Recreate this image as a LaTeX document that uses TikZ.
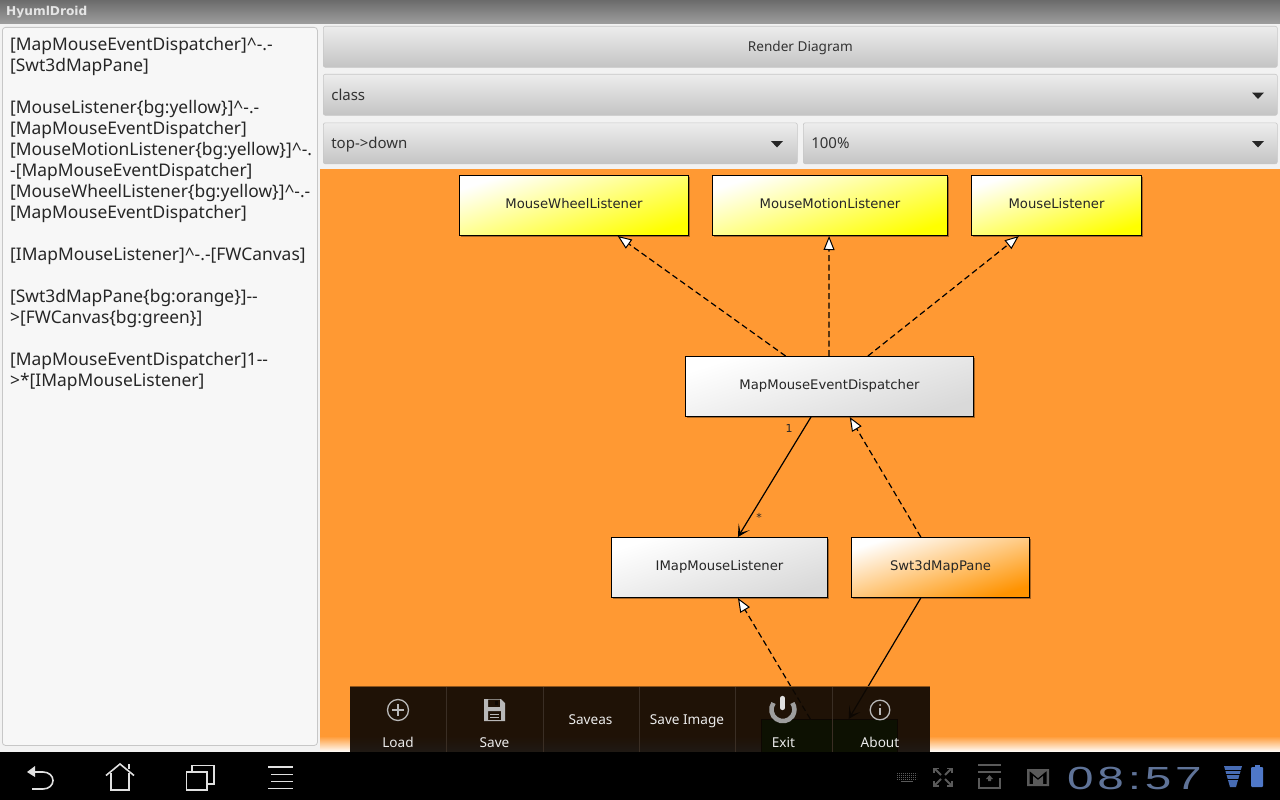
\documentclass[tikz,border=0pt]{standalone}
\usepackage{fontspec}
\usetikzlibrary{arrows.meta,calc,shadows}
\newfontfamily\droid{Noto Sans}
\newfontfamily\dejav{DejaVu Sans}
\newfontfamily\clockf{Liberation Sans}
\definecolor{orangebg}{HTML}{FF9933}
\definecolor{pagebg}{HTML}{F2F2F2}
\definecolor{btntop}{HTML}{EDEDED}
\definecolor{btnbot}{HTML}{C4C4C4}
\definecolor{menubg}{HTML}{0E0803}
\definecolor{menuln}{HTML}{3A2E24}
\definecolor{clockc}{HTML}{5F7398}
\definecolor{statc}{HTML}{5A5A5A}
\definecolor{blueic}{HTML}{4F78C8}
\newcommand{\btntext}[1]{\rule[-5.4pt]{0pt}{22pt}#1}
\newcommand{\boxtext}[1]{\rule[-6pt]{0pt}{17.6pt}#1}
\tikzset{
 x=1pt,y=-1pt,
 umlbox/.style={draw=black,line width=1pt,rectangle,anchor=north west,inner sep=0pt,minimum height=60pt,
   font=\dejav\fontsize{13.2}{15}\selectfont,text=black!85,
   drop shadow={shadow xshift=1.2pt,shadow yshift=-1.2pt,opacity=.35,fill=black}},
 grayb/.style={umlbox,top color=white,bottom color=black!15,shading angle=18},
 yellowb/.style={umlbox,top color=white,bottom color=yellow,shading angle=18},
 orangeb/.style={umlbox,top color=white,bottom color=orange!85!yellow,shading angle=18},
 dep/.style={draw=black,line width=1.2pt,dash pattern=on 6pt off 3.5pt,-{Triangle[open,fill=white,length=14pt,width=11pt,line width=1pt]}},
 assoc/.style={draw=black,line width=1.2pt,-{Stealth[length=12pt,width=13pt,inset=7pt]}},
 btn/.style={rectangle,rounded corners=2pt,anchor=north west,inner sep=0pt,minimum height=41pt,top color=btntop,bottom color=btnbot,draw=black!22,line width=.6pt,text=black!80,font=\droid\fontsize{15}{18}\selectfont},
 menutxt/.style={text=white!92!black,font=\droid\fontsize{13.6}{16}\selectfont,inner sep=0pt,anchor=center},
 menusep/.style={draw=menuln,line width=.6pt},
 menuic/.style={draw=white!72!black,line width=1.3pt},
 navic/.style={draw=white!88!black,line width=1.6pt},
 stic/.style={draw=statc,line width=2pt},
 ddarrow/.style={fill=black!85,draw=none},
 small/.style={font=\dejav\fontsize{11}{12}\selectfont,text=black!85,inner sep=0pt},
}
\begin{document}
\begin{tikzpicture}
\useasboundingbox (0,0) rectangle (1280,800);
% page
\fill[pagebg] (0,0) rectangle (1280,800);
\shade[top color=black!58,bottom color=black!38] (0,0) rectangle (1280,24);
\node[anchor=west,inner sep=0pt,text=white!90!black,font=\dejav\bfseries\fontsize{12.2}{15}\selectfont] (title) at (6,12) {HyumlDroid};
% text area
\node[rectangle,rounded corners=3pt,anchor=north west,inner sep=0pt,minimum width=315pt,minimum height=718pt,fill=white!97!black,draw=black!22,line width=.8pt] (panel) at (2,27) {};
\node[anchor=north west,inner sep=0pt,align=left,text=black!85,font=\droid\fontsize{17.4}{21}\selectfont] (src) at (10,37.5) {%
{[}MapMouseEventDispatcher{]}\textasciicircum-.-\\
{[}Swt3dMapPane{]}\\
\mbox{}\\
{[}MouseListener\{bg:yellow\}{]}\textasciicircum-.-\\
{[}MapMouseEventDispatcher{]}\\
{[}MouseMotionListener\{bg:yellow\}{]}\textasciicircum-.\\
-{[}MapMouseEventDispatcher{]}\\
{[}MouseWheelListener\{bg:yellow\}{]}\textasciicircum-.-\\
{[}MapMouseEventDispatcher{]}\\
\mbox{}\\
{[}IMapMouseListener{]}\textasciicircum-.-{[}FWCanvas{]}\\
\mbox{}\\
{[}Swt3dMapPane\{bg:orange\}{]}-{}-\\
>{[}FWCanvas\{bg:green\}{]}\\
\mbox{}\\
{[}MapMouseEventDispatcher{]}1-{}-\\
>*{[}IMapMouseListener{]}};
% controls
\node[btn,minimum width=954pt,font=\droid\fontsize{13.6}{17}\selectfont] (render) at (323,26) {\rule[-5.1pt]{0pt}{19pt}Render Diagram};
\node[btn,minimum width=954pt,text width=938pt,align=left] (kind) at (323,74) {\btntext{class}};
\node[btn,minimum width=474pt,text width=458pt,align=left] (dir) at (323,122.5) {\btntext{top->down}};
\node[btn,minimum width=474pt,text width=458pt,align=left] (zoomc) at (803,122.5) {\btntext{100\%}};
\fill[ddarrow] (1252,92.5) -- (1264,92.5) -- (1258,99) -- cycle;
\fill[ddarrow] (771,141) -- (783,141) -- (777,147.5) -- cycle;
\fill[ddarrow] (1252,141) -- (1264,141) -- (1258,147.5) -- cycle;
% diagram background
\fill[orangebg] (320,169) rectangle (1280,752);
\shade[top color=orangebg,bottom color=white] (320,736) rectangle (1280,752);
% diagram nodes
\node[draw=black,line width=1pt,rectangle,anchor=north west,inner sep=0pt,minimum height=60pt,fill=green!55!black,minimum width=136pt] (fw) at (761,719) {};
\node[yellowb,minimum width=229pt] (mwl) at (459,175) {\boxtext{MouseWheelListener}};
\node[yellowb,minimum width=235pt] (mml) at (712,175) {\boxtext{MouseMotionListener}};
\node[yellowb,minimum width=170pt] (ml) at (971,175) {\boxtext{MouseListener}};
\node[grayb,minimum width=288pt] (disp) at (685,356) {\boxtext{MapMouseEventDispatcher}};
\node[grayb,minimum width=216pt] (iml) at (611,537) {\boxtext{IMapMouseListener}};
\node[orangeb,minimum width=178pt] (swt) at (851,537) {\boxtext{Swt3dMapPane}};
% connectors
\draw[dep] ($(disp.north west)!0.348!(disp.north east)$) -- ($(mwl.south west)!0.69!(mwl.south east)$);
\draw[dep] ($(disp.north west)!0.498!(disp.north east)$) -- ($(mml.south west)!0.496!(mml.south east)$);
\draw[dep] ($(disp.north west)!0.633!(disp.north east)$) -- ($(ml.south west)!0.28!(ml.south east)$);
\draw[dep] ($(swt.north west)!0.39!(swt.north east)$) -- ($(disp.south west)!0.57!(disp.south east)$);
\draw[assoc] ($(disp.south west)!0.436!(disp.south east)$) -- ($(iml.north west)!0.585!(iml.north east)$);
\draw[dep] ($(fw.north west)!0.36!(fw.north east)$) -- ($(iml.south west)!0.585!(iml.south east)$);
\draw[assoc] ($(swt.south west)!0.39!(swt.south east)$) -- ($(fw.north west)!0.64!(fw.north east)$);
\node[small] (m1) at (789,428) {1};
\node[small] (m2) at (759,517) {*};
% options menu
\fill[menubg,opacity=.93] (350,686) rectangle (930,752);
\draw[draw=black!45!orangebg,line width=1pt] (350,686) -- (930,686);
\foreach \xx in {446.5,543,639,735.5,832}{\draw[menusep] (\xx,687) -- (\xx,752);}
% load
\draw[menuic] (398,710) circle (10.5);
\draw[menuic] (392,710) -- (404,710) (398,704) -- (398,716);
\node[menutxt] (lload) at (398,744) {\strut Load};
% save
\draw[fill=white!72!black,draw=none,even odd rule] (484,699) -- (501,699) -- (505,703) -- (505,721) -- (484,721) -- cycle
  (488,699.5) rectangle (500,707) (488,711) rectangle (501,720);
\draw[white!72!black,line width=1pt] (490,714) -- (499,714) (490,717) -- (499,717);
\fill[menubg] (495,701) rectangle (498,705);
\node[menutxt] (lsave) at (494.5,744) {\strut Save};
\node[menutxt] (lsaveas) at (590.5,721) {\strut Saveas};
\node[menutxt] (lsaveimg) at (687,721) {\strut Save Image};
% exit
\draw[white!62!black,line width=4.6pt] (773.5,703) arc[start angle=215,end angle=-35,radius=11.5];
\draw[white!88!black,line width=4.2pt,line cap=round] (782.5,698) -- (782.5,708);
\node[menutxt] (lexit) at (783.5,744) {\strut Exit};
% about
\draw[menuic] (880,710) circle (9.8);
\fill[white!72!black] (880,705) circle (1);
\draw[white!72!black,line width=1.4pt] (880,708) -- (880,715);
\node[menutxt] (labout) at (880,744) {\strut About};
% system bar
\fill[black] (0,752) rectangle (1280,800);
% back
\draw[navic] (32,772) -- (43,772) .. controls (49,772) and (53,776) .. (53,780.5) .. controls (53,785) and (49,789) .. (43,789) -- (32,789);
\fill[white!88!black] (27,772) -- (35,766) -- (35,777) -- cycle;
% home
\draw[navic,line join=miter] (106,775.5) -- (120,764) -- (134,775.5);
\draw[navic] (111,773) -- (111,790) -- (129,790) -- (129,773);
\draw[navic] (129,769) -- (129,764);
% recent
\draw[navic] (186.5,772) rectangle (207,790);
\draw[navic] (192,772) -- (192,765.5) -- (214,765.5) -- (214,784) -- (207,784);
% menu
\draw[navic] (268,767) -- (293,767) (271,774.5) -- (293,774.5) (271,781.5) -- (293,781.5) (268,788.5) -- (293,788.5);
% status
\foreach \yy in {773.5,775.5,777.5,779.5}{\draw[statc,line width=1.1pt,dash pattern=on 1.4pt off .6pt] (897,\yy) -- (917,\yy);}
\draw[statc,line width=1pt] (901,781.8) -- (913,781.8);
\draw[stic,line width=1.8pt] (935,769) -- (941,775) (951,769) -- (945,775) (935,785) -- (941,779) (951,785) -- (945,779);
\draw[stic,line width=1.5pt] (934,773) -- (934,768.5) -- (939,768.5) (947,768.5) -- (952,768.5) -- (952,773) (934,781) -- (934,786) -- (939,786) (947,786) -- (952,786) -- (952,781);
\draw[stic,line width=2.6pt] (978,765) -- (1001,765) (978,772) -- (1001,772);
\draw[stic,line width=2.4pt] (979,778) -- (979,788) -- (1000,788) -- (1000,778);
\fill[statc] (989.5,775) -- (986,779) -- (988,779) -- (988,781) -- (991,781) -- (991,779) -- (993,779) -- cycle;
\fill[statc,even odd rule] (1027,769) rectangle (1049,786) (1029.5,771) -- (1038,778) -- (1046.5,771) -- (1046.5,784) -- (1043,784) -- (1043,776) -- (1038,780) -- (1033,776) -- (1033,784) -- (1029.5,784) -- cycle;
\node[anchor=west,inner sep=0pt,text=clockc,font=\clockf\fontsize{32}{32}\selectfont] (clock) at (1067,778) {\scalebox{1.49}[1]{\addfontfeature{LetterSpace=8}08:57}};
\fill[blueic,opacity=.9] (1224,766) -- (1242,766) -- (1236,787) -- (1230,787) -- cycle;
\foreach \yy in {770,774.5,779}{\draw[black,line width=.7pt] (1224,\yy) -- (1242,\yy);}
\fill[blueic,rounded corners=1pt] (1251,767) rectangle (1263,787);
\fill[blueic] (1254.5,764.5) rectangle (1259.5,767.5);
\end{tikzpicture}
\end{document}
